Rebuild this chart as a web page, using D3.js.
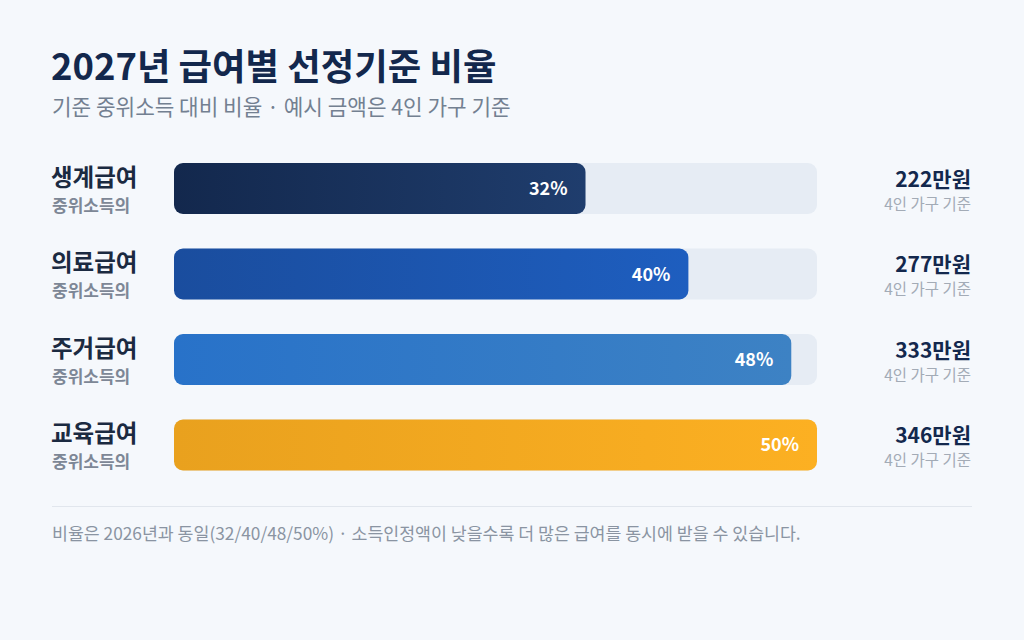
<!DOCTYPE html>
<html><head><meta charset="utf-8">
<script src="https://cdn.jsdelivr.net/npm/d3@7/dist/d3.min.js"></script>
<style>
html,body{margin:0;padding:0;background:#f5f8fc;}
svg{display:block;font-family:"Noto Sans CJK KR","Noto Sans",sans-serif;}
</style></head><body>
<svg id="c" width="1024" height="640"></svg>
<script>
const categories = ["생계급여","의료급여","주거급여","교육급여"];
const rates = [32,40,48,50];
const amounts = ["222만원","277만원","333만원","346만원"];
const subLabel = "중위소득의";
const amountNote = "4인 가구 기준";
const gradients = [["#13284d","#1f3d6d"],["#1a4d9e","#1e5ebf"],["#2872c9","#3d82c4"],["#e9a11e","#fcb022"]];

const svg = d3.select("#c");
svg.append("rect").attr("width",1024).attr("height",640).attr("fill","#f5f8fc");

const defs = svg.append("defs");
gradients.forEach((g,i)=>{
  const lg = defs.append("linearGradient").attr("id","g"+i).attr("x1","0%").attr("x2","100%").attr("y1","0").attr("y2","0");
  lg.append("stop").attr("offset","0%").attr("stop-color",g[0]);
  lg.append("stop").attr("offset","100%").attr("stop-color",g[1]);
});

svg.append("text").attr("x",51).attr("y",80).attr("font-size",36.4).attr("font-weight",700).attr("fill","#13284d").text("2027년 급여별 선정기준 비율");
svg.append("text").attr("x",52).attr("y",115).attr("font-size",21.3).attr("fill","#738091").text("기준 중위소득 대비 비율 · 예시 금액은 4인 가구 기준");

const x = d3.scaleLinear().domain([0,50]).range([174,817]);
const y = d3.scaleBand().domain(categories).range([163,470.5]).paddingInner(0.4035).paddingOuter(0);
const rows = svg.selectAll("g.row").data(categories).join("g").attr("class","row");

rows.append("rect").attr("x",x(0)).attr("y",d=>y(d)).attr("width",x(50)-x(0)).attr("height",y.bandwidth())
  .attr("rx",9).attr("fill","#e6ecf4");
rows.append("rect").attr("x",x(0)).attr("y",d=>y(d)).attr("width",(d,i)=>x(rates[i])-x(0)).attr("height",y.bandwidth())
  .attr("rx",9).attr("fill",(d,i)=>`url(#g${i})`);
rows.append("text").attr("x",(d,i)=>x(rates[i])-18).attr("y",d=>y(d)+y.bandwidth()/2+6.5)
  .attr("text-anchor","end").attr("font-size",18).attr("font-weight",700).attr("fill","#ffffff").text((d,i)=>rates[i]+"%");

rows.append("text").attr("x",51).attr("y",d=>y(d)+23).attr("font-size",23.5).attr("font-weight",700).attr("fill","#1b2a41").text(d=>d);
rows.append("text").attr("x",52).attr("y",d=>y(d)+49).attr("font-size",17).attr("font-weight",600).attr("fill","#7d8796").text(subLabel);

rows.append("text").attr("x",971).attr("y",d=>y(d)+24).attr("text-anchor","end").attr("font-size",21).attr("font-weight",700).attr("fill","#13284d").text((d,i)=>amounts[i]);
rows.append("text").attr("x",971).attr("y",d=>y(d)+47).attr("text-anchor","end").attr("font-size",15.5).attr("fill","#a3abb6").text(amountNote);

svg.append("line").attr("x1",52).attr("x2",972).attr("y1",506.5).attr("y2",506.5).attr("stroke","#e1e6ed").attr("stroke-width",1);
svg.append("text").attr("x",52).attr("y",540).attr("font-size",17.3).attr("fill","#8a94a2").text("비율은 2026년과 동일(32/40/48/50%) · 소득인정액이 낮을수록 더 많은 급여를 동시에 받을 수 있습니다.");
</script>
</body></html>
